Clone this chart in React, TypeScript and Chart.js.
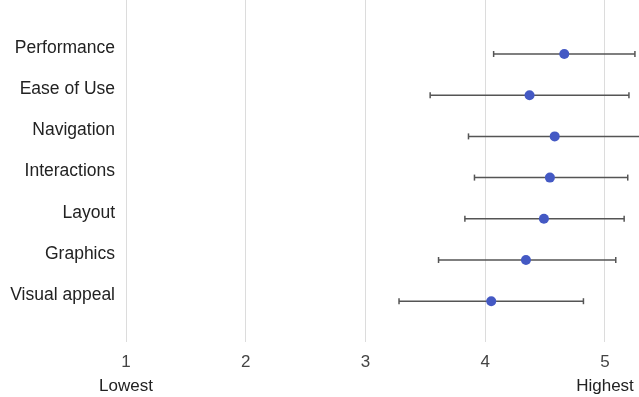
import React, { useEffect, useRef } from "react";
import { Chart, registerables } from "chart.js";

Chart.register(...registerables);

const categories = ["Performance", "Ease of Use", "Navigation", "Interactions", "Layout", "Graphics", "Visual appeal"];
const means = [4.66, 4.37, 4.58, 4.54, 4.49, 4.34, 4.05];
const lows = [4.07, 3.54, 3.86, 3.91, 3.83, 3.61, 3.28];
const highs = [5.25, 5.2, 5.3, 5.19, 5.16, 5.09, 4.82];
const xTicks = [1, 2, 3, 4, 5];
const endLabels: Record<number, string> = { 1: "Lowest", 5: "Highest" };

const FONT = "'Liberation Sans', Arial, Helvetica, sans-serif";
const POINT_COLOR = "#4459C4";
const BAR_COLOR = "#555555";

const zeroPad = (s: any) => {
  s.paddingTop = 0;
  s.paddingBottom = 0;
  s.paddingLeft = 0;
  s.paddingRight = 0;
};

export default function App() {
  const ref = useRef<HTMLCanvasElement | null>(null);

  useEffect(() => {
    if (!ref.current) return;
    const errorLines = categories.map((_, i) => ({
      type: "scatter" as const,
      data: [
        { x: lows[i], y: i },
        { x: highs[i], y: i },
      ],
      showLine: true,
      borderColor: BAR_COLOR,
      borderWidth: 1.5,
      pointRadius: 0,
      order: 2,
    }));
    const caps = {
      type: "scatter" as const,
      data: categories.flatMap((_, i) => [
        { x: lows[i], y: i },
        { x: highs[i], y: i },
      ]),
      pointStyle: "line" as const,
      rotation: 90,
      pointRadius: 3,
      borderColor: BAR_COLOR,
      borderWidth: 1.5,
      order: 1,
    };
    const points = {
      type: "scatter" as const,
      data: categories.map((_, i) => ({ x: means[i], y: i })),
      pointRadius: 5,
      pointBackgroundColor: POINT_COLOR,
      pointBorderColor: POINT_COLOR,
      borderWidth: 0,
      order: 0,
    };

    const chart = new Chart(ref.current, {
      type: "scatter",
      data: { datasets: [...errorLines, caps, points] as any },
      options: {
        animation: false,
        responsive: true,
        maintainAspectRatio: false,
        layout: { padding: 0, autoPadding: false },
        plugins: { legend: { display: false }, tooltip: { enabled: false } },
        scales: {
          x: {
            type: "linear",
            position: "bottom",
            weight: 0,
            min: 1,
            max: 5.284,
            afterBuildTicks: (s: any) => {
              s.ticks = xTicks.map((v) => ({ value: v }));
            },
            afterFit: (s: any) => {
              s.height = 30;
              zeroPad(s);
            },
            grid: { color: "#dcdcdc", lineWidth: 1, drawTicks: false },
            border: { display: false },
            ticks: {
              padding: 10,
              color: "#444444",
              font: { family: FONT, size: 17 },
              callback: (v: any) => String(v),
            },
          },
          x2: {
            type: "linear",
            position: "bottom",
            weight: 1,
            min: 1,
            max: 5.284,
            afterBuildTicks: (s: any) => {
              s.ticks = [1, 5].map((v) => ({ value: v }));
            },
            afterFit: (s: any) => {
              s.height = 25;
              zeroPad(s);
            },
            grid: { display: false, drawTicks: false },
            border: { display: false },
            ticks: {
              padding: 4,
              color: "#222222",
              font: { family: FONT, size: 17 },
              callback: (v: any) => endLabels[v as number] ?? "",
            },
          },
          y: {
            type: "linear",
            reverse: true,
            min: -1.31,
            max: 6.99,
            afterBuildTicks: (s: any) => {
              s.ticks = categories.map((_, i) => ({ value: i }));
            },
            afterFit: (s: any) => {
              s.width = 126;
              zeroPad(s);
            },
            grid: { display: false, drawTicks: false },
            border: { display: false },
            ticks: {
              padding: 11,
              labelOffset: -6,
              color: "#222222",
              font: { family: FONT, size: 17.5 },
              callback: (v: any) => categories[v as number] ?? "",
            },
          },
        },
      },
    });
    return () => chart.destroy();
  }, []);

  return (
    <div style={{ position: "absolute", left: 0, top: 0, width: 639, height: 397, background: "#fff" }}>
      <canvas ref={ref} />
    </div>
  );
}
